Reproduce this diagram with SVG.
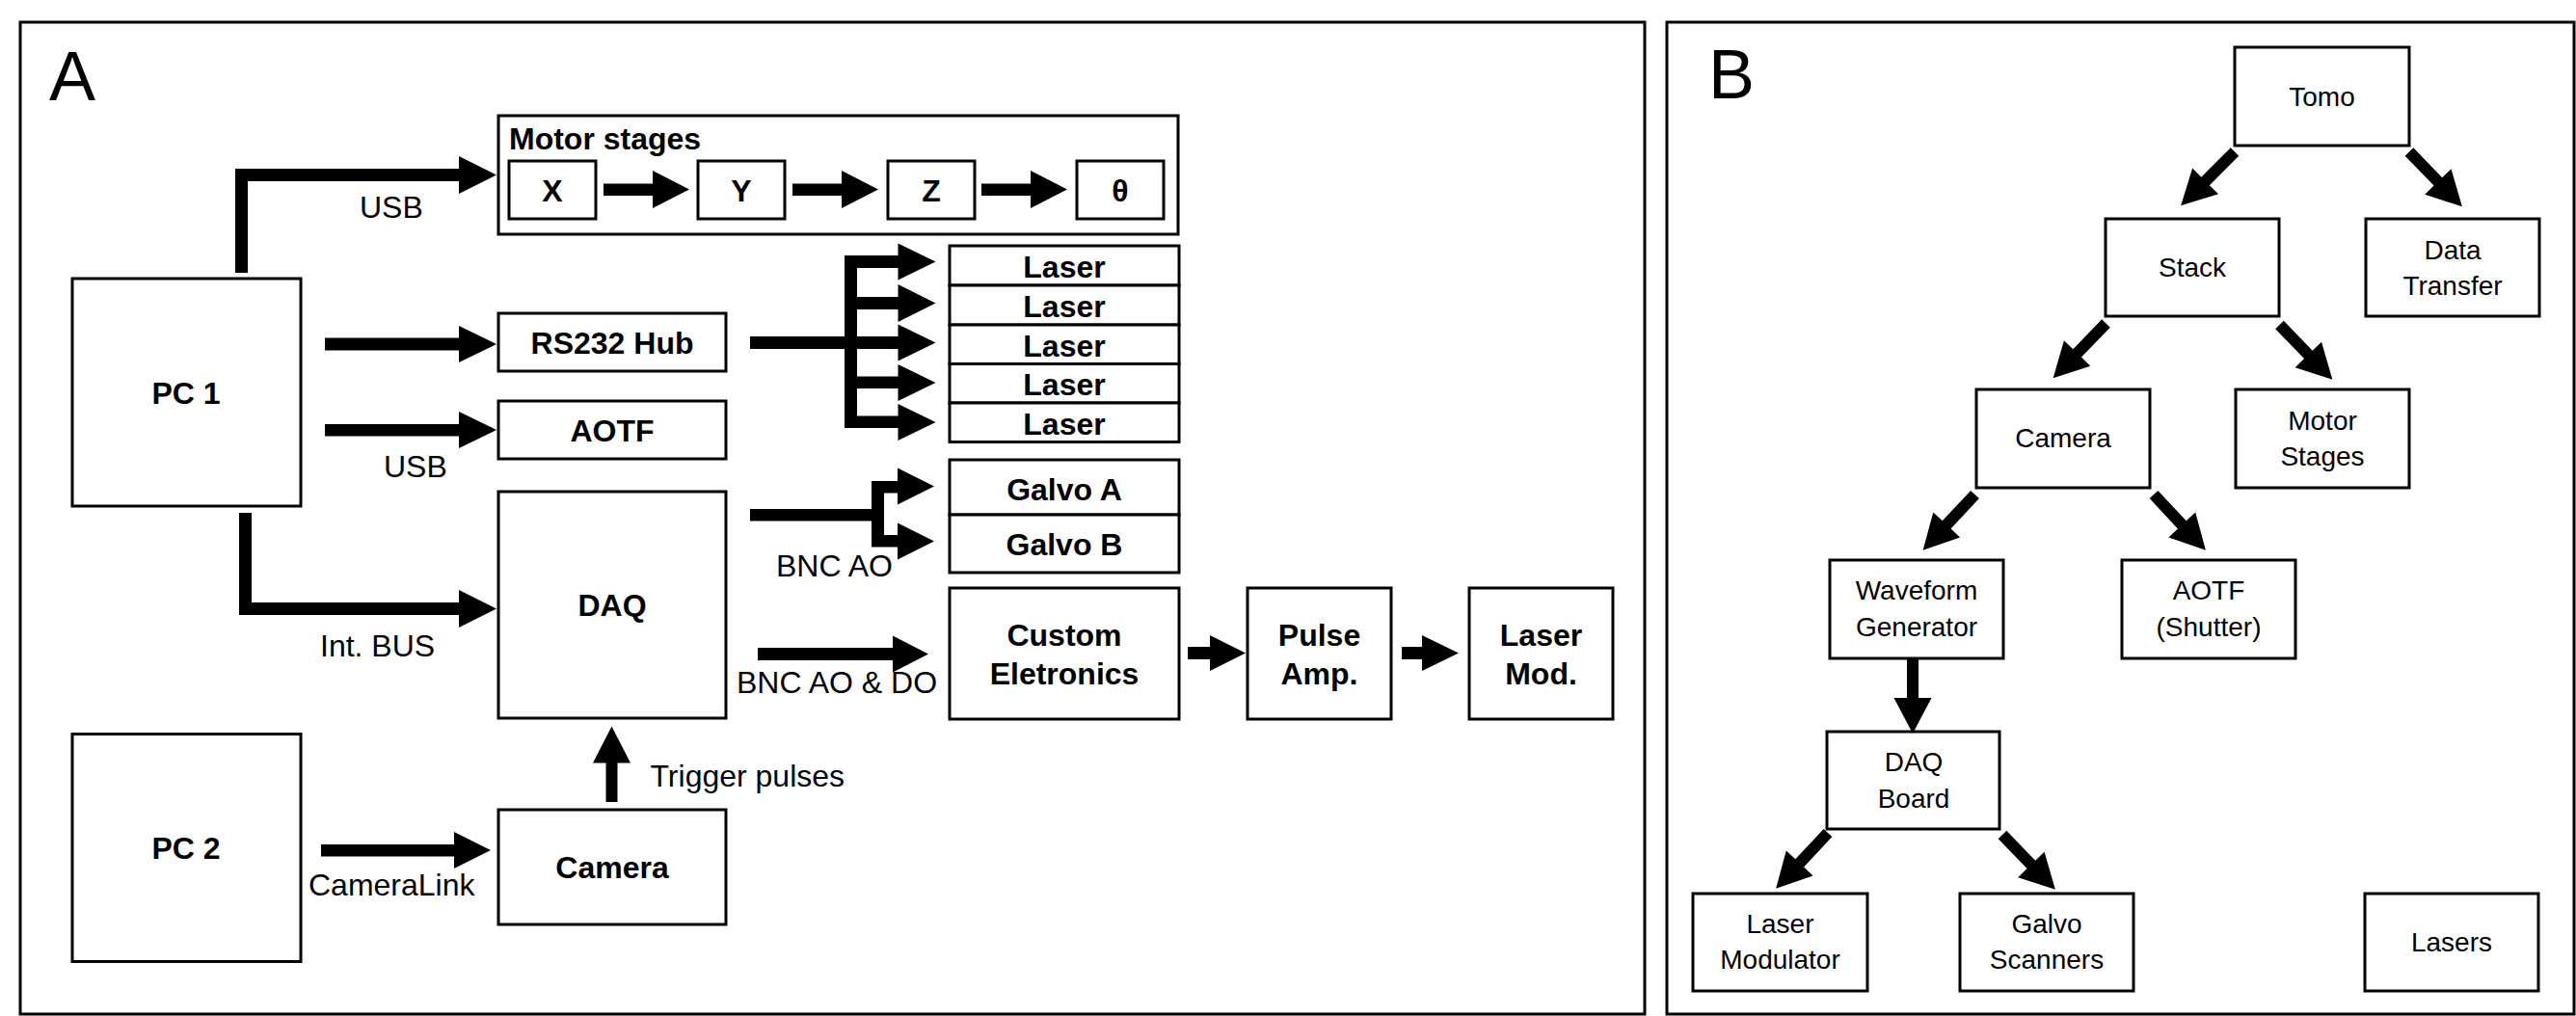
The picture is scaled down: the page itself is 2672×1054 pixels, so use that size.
<svg xmlns="http://www.w3.org/2000/svg" width="2672" height="1054" viewBox="0 0 2672 1054">
<style>
.box{fill:#fff;stroke:#000;stroke-width:3}
.panel{fill:#fff;stroke:#000;stroke-width:3}
.b{font-family:"Liberation Sans",Arial,sans-serif;font-weight:bold;font-size:32px;fill:#000;text-anchor:middle}
.lbl{font-family:"Liberation Sans",Arial,sans-serif;font-size:32px;fill:#000}
.nb{font-family:"Liberation Sans",Arial,sans-serif;font-size:28px;fill:#000;text-anchor:middle}
.big{font-family:"Liberation Sans",Arial,sans-serif;font-size:72px;fill:#000}
.arr{fill:#000;stroke:none}
</style>
<defs>
<path id="darr" d="M0,-6 L43,-6 L43,-19 L79,0 L43,19 L43,6 L0,6 Z"/>
</defs>
<rect width="2672" height="1054" fill="#fff"/>
<rect class="panel" x="21" y="23" width="1685" height="1029"/>
<rect class="panel" x="1729" y="23" width="941" height="1029"/>
<text class="big" x="51" y="104">A</text>
<text class="big" x="1772" y="102">B</text>

<g id="labels">
<text class="lbl" x="373" y="226">USB</text>
<text class="lbl" x="398" y="494.5">USB</text>
<text class="lbl" x="332" y="681">Int. BUS</text>
<text class="lbl" x="320" y="928.5">CameraLink</text>
<text class="lbl" x="674.5" y="816">Trigger pulses</text>
<text class="lbl" x="805" y="597.5">BNC AO</text>
<text class="lbl" x="764" y="718.5">BNC AO &amp; DO</text>
</g>

<g id="motor-stages">
<rect class="box" x="517" y="120" width="705" height="123"/>
<text class="b" x="528" y="155" style="text-anchor:start">Motor stages</text>
</g>
<g id="stage-x"><rect class="box" x="528" y="167" width="90" height="60"/><text class="b" x="573" y="209">X</text></g>
<g id="stage-y"><rect class="box" x="724" y="167" width="90" height="60"/><text class="b" x="769" y="209">Y</text></g>
<g id="stage-z"><rect class="box" x="921" y="167" width="90" height="60"/><text class="b" x="966" y="209">Z</text></g>
<g id="stage-theta"><rect class="box" x="1117" y="167" width="90" height="60"/><text class="b" x="1162" y="209">θ</text></g>
<g id="pc1"><rect class="box" x="75" y="289" width="237" height="236"/><text class="b" x="193" y="419">PC 1</text></g>
<g id="rs232"><rect class="box" x="517" y="325" width="236" height="60"/><text class="b" x="635" y="366.5">RS232 Hub</text></g>
<g id="aotf"><rect class="box" x="517" y="416" width="236" height="60"/><text class="b" x="635" y="458">AOTF</text></g>
<g id="daq"><rect class="box" x="517" y="510" width="236" height="235"/><text class="b" x="635" y="639">DAQ</text></g>
<g id="pc2"><rect class="box" x="75" y="761.5" width="237" height="236"/><text class="b" x="193" y="891">PC 2</text></g>
<g id="camera"><rect class="box" x="517" y="840" width="236" height="119"/><text class="b" x="635" y="911">Camera</text></g>
<g id="laser1"><rect class="box" x="985" y="255" width="238" height="41"/><text class="b" x="1104" y="288">Laser</text></g>
<g id="laser2"><rect class="box" x="985" y="296" width="238" height="41"/><text class="b" x="1104" y="329">Laser</text></g>
<g id="laser3"><rect class="box" x="985" y="337" width="238" height="40.5"/><text class="b" x="1104" y="369.5">Laser</text></g>
<g id="laser4"><rect class="box" x="985" y="377.5" width="238" height="40.5"/><text class="b" x="1104" y="410">Laser</text></g>
<g id="laser5"><rect class="box" x="985" y="418" width="238" height="40.5"/><text class="b" x="1104" y="451">Laser</text></g>
<g id="galvo-a"><rect class="box" x="985" y="477" width="238" height="57"/><text class="b" x="1104" y="519">Galvo A</text></g>
<g id="galvo-b"><rect class="box" x="985" y="534" width="238" height="60"/><text class="b" x="1104" y="576">Galvo B</text></g>
<g id="custom"><rect class="box" x="985" y="610" width="238" height="136"/><text class="b" x="1104" y="670">Custom</text><text class="b" x="1104" y="710">Eletronics</text></g>
<g id="pulse-amp"><rect class="box" x="1294" y="610" width="149" height="136"/><text class="b" x="1368.5" y="670">Pulse</text><text class="b" x="1368.5" y="710">Amp.</text></g>
<g id="laser-mod"><rect class="box" x="1524" y="610" width="149" height="136"/><text class="b" x="1598.5" y="670">Laser</text><text class="b" x="1598.5" y="710">Mod.</text></g>

<g id="b-tomo"><rect class="box" x="2318" y="49" width="181" height="102"/><text class="nb" x="2408.5" y="110">Tomo</text></g>
<g id="b-stack"><rect class="box" x="2184" y="227" width="180" height="101"/><text class="nb" x="2274" y="286.5">Stack</text></g>
<g id="b-data"><rect class="box" x="2454" y="227" width="180" height="101"/><text class="nb" x="2544" y="268.5">Data</text><text class="nb" x="2544" y="306">Transfer</text></g>
<g id="b-camera"><rect class="box" x="2050" y="404" width="180" height="102"/><text class="nb" x="2140" y="464">Camera</text></g>
<g id="b-motor"><rect class="box" x="2319" y="404" width="180" height="102"/><text class="nb" x="2409" y="446">Motor</text><text class="nb" x="2409" y="483">Stages</text></g>
<g id="b-waveform"><rect class="box" x="1898" y="581" width="180" height="102"/><text class="nb" x="1988" y="622">Waveform</text><text class="nb" x="1988" y="659.5">Generator</text></g>
<g id="b-aotf"><rect class="box" x="2201" y="581" width="180" height="102"/><text class="nb" x="2291" y="622">AOTF</text><text class="nb" x="2291" y="659.5">(Shutter)</text></g>
<g id="b-daq"><rect class="box" x="1895" y="759" width="179" height="101"/><text class="nb" x="1985" y="800">DAQ</text><text class="nb" x="1985" y="838">Board</text></g>
<g id="b-lasermod"><rect class="box" x="1756" y="927" width="181" height="101"/><text class="nb" x="1846.5" y="968">Laser</text><text class="nb" x="1846.5" y="1005">Modulator</text></g>
<g id="b-galvo"><rect class="box" x="2033" y="927" width="180" height="101"/><text class="nb" x="2123" y="968">Galvo</text><text class="nb" x="2123" y="1005">Scanners</text></g>
<g id="b-lasers"><rect class="box" x="2453" y="927" width="180" height="101"/><text class="nb" x="2543" y="987">Lasers</text></g>

<g id="connectors" class="arr">
<polygon points="244,283 244,175 476,175 476,162 515,181.5 476,201 476,188 257,188 257,283"/>
<polygon points="626,190.5 677,190.5 677,177 715,196.5 677,216 677,203 626,203"/>
<polygon points="822,190.5 873,190.5 873,177 911,196.5 873,216 873,203 822,203"/>
<polygon points="1018,190.5 1069,190.5 1069,177 1107,196.5 1069,216 1069,203 1018,203"/>
<polygon points="337,350.5 476,350.5 476,338 515,357 476,376 476,363.5 337,363.5"/>
<polygon points="337,440 476,440 476,427 515,446 476,465 476,452.5 337,452.5"/>
<polygon points="248,532 261,532 261,625 476,625 476,612 515,631.5 476,651 476,638 248,638"/>
<polygon points="333,876 471,876 471,863 509,882 471,901 471,888.5 333,888.5"/>
<polygon points="628.5,832 628.5,791.5 615,791.5 634.5,753.5 654,791.5 640.5,791.5 640.5,832"/>
<polygon points="778,349 876,349 876,265 931.5,265 931.5,252.5 970.5,271.5 931.5,290.5 931.5,278 889,278 889,308 931.5,308 931.5,295 970.5,314.5 931.5,334 931.5,321 889,321 889,349 931.5,349 931.5,336.5 970.5,355.5 931.5,374.5 931.5,362 889,362 889,390.5 931.5,390.5 931.5,378 970.5,397 931.5,416 931.5,403 889,403 889,431.5 931.5,431.5 931.5,419 970.5,438 931.5,457 931.5,444 876,444 876,362 778,362"/>
<polygon points="778,528 904,528 904,499 931,499 931,485.5 969,504.5 931,523.5 931,511.5 917,511.5 917,555 931,555 931,542.5 969,561.5 931,580.5 931,567.5 904,567.5 904,540.5 778,540.5"/>
<polygon points="786,672 926,672 926,659.5 963,678.5 926,697.5 926,685 786,685"/>
<polygon points="1232,671 1255,671 1255,659 1292,677.5 1255,696 1255,684 1232,684"/>
<polygon points="1454,671 1475,671 1475,659 1513,677.5 1475,696 1475,684 1454,684"/>
<use href="#darr" transform="translate(2318,157.5) rotate(135)"/>
<use href="#darr" transform="translate(2499,157.5) rotate(46)"/>
<use href="#darr" transform="translate(2184.5,335.5) rotate(134)"/>
<use href="#darr" transform="translate(2364.5,337) rotate(46)"/>
<use href="#darr" transform="translate(2048.5,513) rotate(133)"/>
<use href="#darr" transform="translate(2234,513) rotate(47)"/>
<use href="#darr" transform="translate(1896,864) rotate(133)"/>
<use href="#darr" transform="translate(2077,866) rotate(46)"/>
<polygon points="1978,683 1990,683 1990,724 2003.5,724 1984,761 1964.5,724 1978,724"/>
</g>
</svg>
